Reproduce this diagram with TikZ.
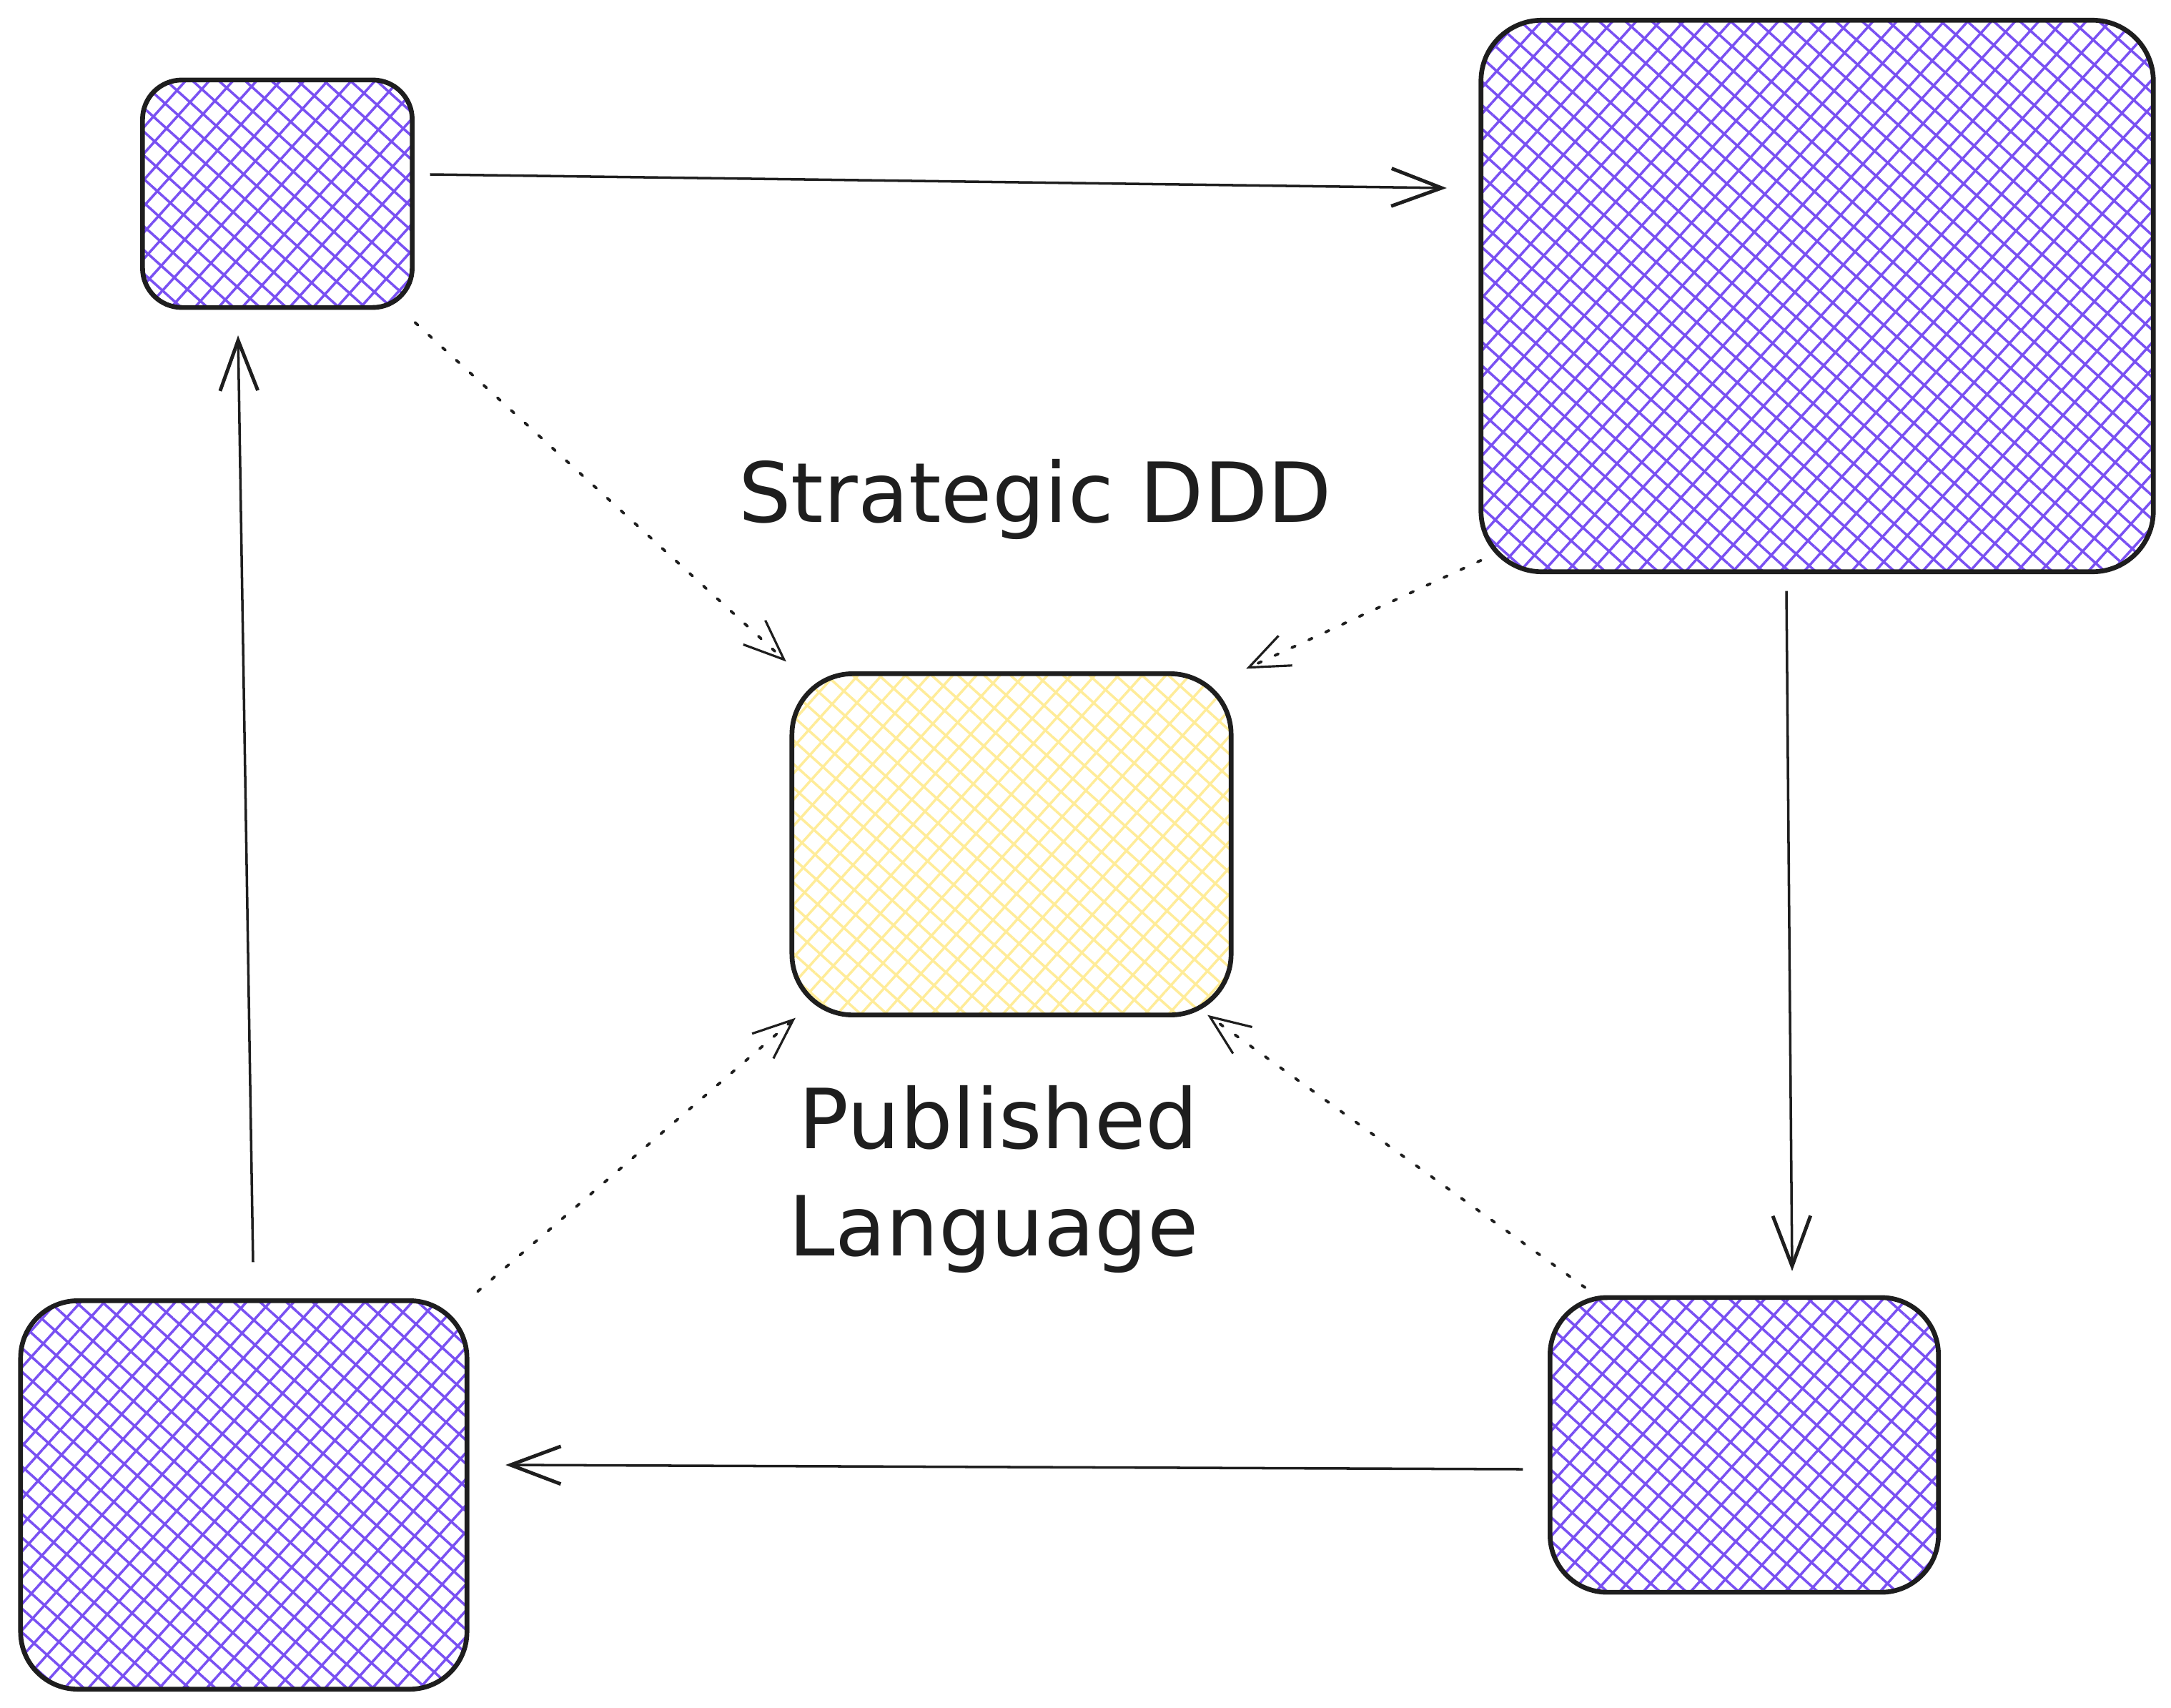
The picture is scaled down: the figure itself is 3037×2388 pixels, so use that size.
\documentclass[tikz,border=0pt]{standalone}
\usepackage{fontspec}
\setmainfont{DejaVu Sans}
\usetikzlibrary{arrows.meta,patterns.meta}
\definecolor{ink}{HTML}{1E1E1E}
\definecolor{hatchviolet}{HTML}{7950F2}
\definecolor{hatchyellow}{HTML}{FFEC99}

\begin{document}
\begin{tikzpicture}[x=0.01cm, y=-0.01cm,
    box/.style={draw=ink, line width=1.9pt, inner sep=0pt, outer sep=0pt, rounded corners=0.8cm},
    violetbox/.style={box,
      preaction={pattern={Lines[angle=48,distance=7pt,line width=1pt]}, pattern color=hatchviolet},
      pattern={Lines[angle=-42,distance=7pt,line width=1pt]}, pattern color=hatchviolet},
    yellowbox/.style={box,
      preaction={pattern={Lines[angle=48,distance=7pt,line width=1pt]}, pattern color=hatchyellow},
      pattern={Lines[angle=-42,distance=7pt,line width=1pt]}, pattern color=hatchyellow},
    flow/.style={draw=ink, line width=1pt, -{Straight Barb[length=20pt,width=15pt,line width=1.4pt]}},
    link/.style={draw=ink, line width=1.1pt, line cap=round, dash pattern=on 1.5pt off 5.9pt,
      -{Straight Barb[length=16pt,width=13pt,line width=0.9pt]}},
    handtext/.style={text=ink, font=\fontsize{33}{40}\selectfont, anchor=base}]
  \useasboundingbox (0, 0) rectangle (3037, 2388);

  % contexts
  \node[violetbox, minimum width=3.77cm, minimum height=3.18cm, rounded corners=0.55cm] (ctxA) at (388, 271) {};
  \node[violetbox, minimum width=9.40cm, minimum height=7.71cm, rounded corners=0.85cm] (ctxB) at (2542, 414) {};
  \node[violetbox, minimum width=5.43cm, minimum height=4.12cm] (ctxC) at (2440, 2021) {};
  \node[violetbox, minimum width=6.24cm, minimum height=5.43cm] (ctxD) at (341, 2091) {};
  \node[yellowbox, minimum width=6.14cm, minimum height=4.77cm, rounded corners=0.85cm] (pl) at (1415, 1181) {};

  % cycle
  \draw[flow] ([shift={(25,-27)}]ctxA.east) -- ([shift={(-48,-151)}]ctxB.west);
  \draw[flow] ([shift={(-43,27)}]ctxB.south) -- ([shift={(67,-37)}]ctxC.north);
  \draw[flow] ([shift={(-38,34)}]ctxC.west) -- ([shift={(54,-42)}]ctxD.east);
  \draw[flow] ([shift={(13,-54)}]ctxD.north) -- ([shift={(-55,39)}]ctxA.south);

  % links to the published language
  \foreach \a/\ax/\ay/\b/\bx/\by in {ctxA.south east/4/21/pl.north west/-8/-17,
                                    ctxB.south west/0/-16/pl.north east/21/-7,
                                    ctxD.north east/15/-13/pl.south west/5/4,
                                    ctxC.north west/49/-14/pl.south east/-33/0}
  \draw[link] ([shift={(\ax,\ay)}]\a) -- ([shift={(\bx,\by)}]\b);

  \node[handtext] (title) at (1448, 730) {Strategic DDD};
  \node[handtext] (pubword) at (1397, 1606) {Published};
  \node[handtext] (langword) at (1390, 1756) {Language};
\end{tikzpicture}
\end{document}
